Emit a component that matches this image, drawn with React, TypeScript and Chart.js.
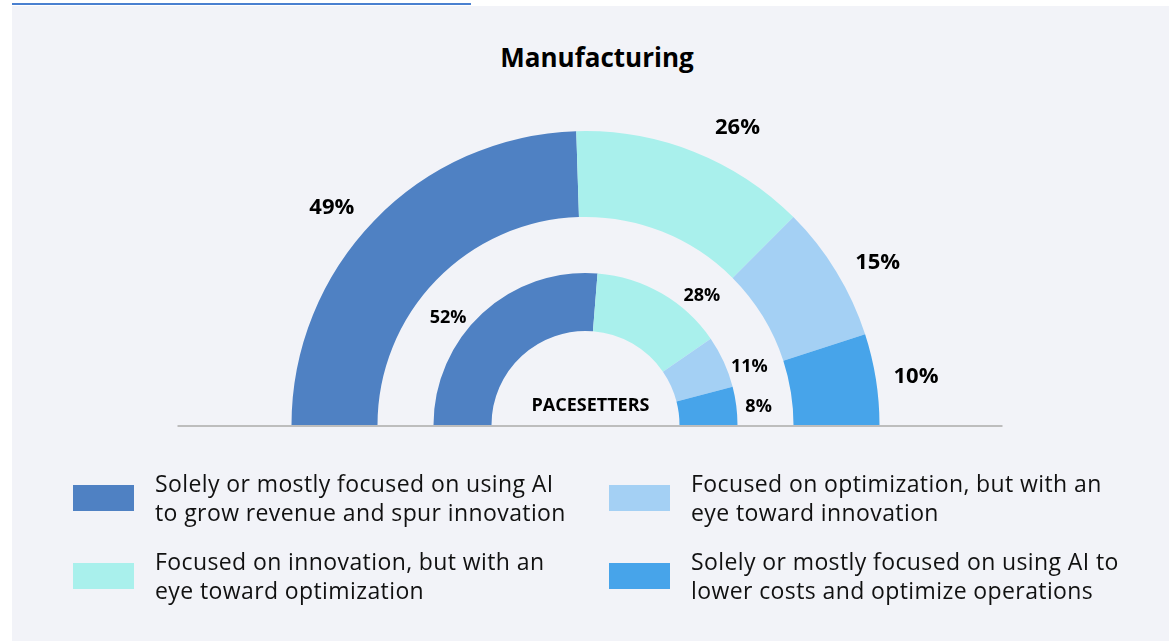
import React, { useEffect, useRef } from "react";
import { Chart, registerables } from "chart.js";

Chart.register(...registerables);

const title = "Manufacturing";
const centerLabel = "PACESETTERS";
const categories = [
  "Solely or mostly focused on using AI\nto grow revenue and spur innovation",
  "Focused on innovation, but with an\neye toward optimization",
  "Focused on optimization, but with an\neye toward innovation",
  "Solely or mostly focused on using AI to\nlower costs and optimize operations",
];
const allRespondents = [49, 26, 15, 10];
const pacesetters = [52, 28, 11, 8];
const colors = ["#4f81c3", "#a9f0ec", "#a4d0f4", "#47a4ea"];

const FONT = "'Open Sans', Lato, sans-serif";

export default function App() {
  const ref = useRef<HTMLCanvasElement | null>(null);

  useEffect(() => {
    if (!ref.current) return;

    const labelPlugin = {
      id: "ringLabels",
      afterDatasetsDraw(chart: any) {
        const ctx = chart.ctx;
        const meta0 = chart.getDatasetMeta(0);
        const first = meta0.data[0];
        if (!first) return;
        const cx = first.x;
        const cy = first.y;
        // baseline
        ctx.save();
        ctx.strokeStyle = "#bdbdbd";
        ctx.lineWidth = 2;
        ctx.beginPath();
        ctx.moveTo(cx - 408, cy + 1);
        ctx.lineTo(cx + 417, cy + 1);
        ctx.stroke();

        const drawRing = (idx: number, R: number, k: number, size: number) => {
          const meta = chart.getDatasetMeta(idx);
          const ds = chart.data.datasets[idx];
          ctx.font = `bold ${size}px ${FONT}`;
          ctx.fillStyle = "#000";
          ctx.textAlign = "center";
          ctx.textBaseline = "middle";
          meta.data.forEach((arc: any, i: number) => {
            const mid = (arc.startAngle + arc.endAngle) / 2;
            let th = -mid;
            if (th > Math.PI / 2) th = Math.PI - k * (Math.PI - th);
            else th = k * th;
            const x = cx + R * Math.cos(th);
            const y = cy - R * Math.sin(th);
            ctx.fillText(`${ds.data[i]}%`, x, y);
          });
        };
        drawRing(0, 334, 0.92, 22);
        drawRing(2, 174, 0.8, 18);

        ctx.font = `bold 18px ${FONT}`;
        ctx.textAlign = "center";
        ctx.textBaseline = "middle";
        ctx.fillText(centerLabel, cx + 5, cy - 19);
        ctx.restore();
      },
    };

    const chart = new Chart(ref.current, {
      type: "doughnut",
      data: {
        labels: categories,
        datasets: [
          {
            data: allRespondents,
            backgroundColor: colors,
            borderWidth: 0,
            weight: 86,
          } as any,
          {
            data: [1],
            backgroundColor: ["rgba(0,0,0,0)"],
            borderWidth: 0,
            weight: 56,
          } as any,
          {
            data: pacesetters,
            backgroundColor: colors,
            borderWidth: 0,
            weight: 58,
          } as any,
        ],
      },
      options: {
        animation: false,
        responsive: false,
        maintainAspectRatio: false,
        rotation: -90,
        circumference: 180,
        radius: 294,
        cutout: "31.97%",
        layout: { padding: { top: 0, left: 0, right: 0, bottom: 85 } },
        plugins: {
          legend: { display: false },
          tooltip: { enabled: false },
          title: { display: false },
        },
        events: [],
      } as any,
      plugins: [labelPlugin],
    });
    return () => chart.destroy();
  }, []);

  const legendPos = [
    { left: 73, top: 485 },
    { left: 73, top: 563 },
    { left: 609, top: 485 },
    { left: 609, top: 563 },
  ];

  return (
    <div
      style={{
        position: "fixed",
        left: 0,
        top: 0,
        width: 1171,
        height: 641,
        background: "#ffffff",
        overflow: "hidden",
        fontFamily: FONT,
      }}
    >
      <div
        style={{
          position: "absolute",
          left: 12,
          top: 3,
          width: 459,
          height: 2,
          background: "#4a80d0",
        }}
      />
      <div
        style={{
          position: "absolute",
          left: 12,
          top: 6,
          width: 1157,
          height: 635,
          background: "#f2f3f8",
        }}
      />
      <div
        style={{
          position: "absolute",
          left: 397,
          width: 400,
          top: 40,
          textAlign: "center",
          fontWeight: 700,
          fontSize: 26,
          color: "#000",
          lineHeight: "34px",
        }}
      >
        {title}
      </div>
      <canvas
        ref={ref}
        width={1171}
        height={641}
        style={{ position: "absolute", left: 0, top: 0, width: 1171, height: 641 }}
      />
      {categories.map((c, i) => (
        <React.Fragment key={i}>
          <div
            style={{
              position: "absolute",
              left: legendPos[i].left,
              top: legendPos[i].top,
              width: 61,
              height: 26,
              background: colors[i],
            }}
          />
          <div
            style={{
              position: "absolute",
              left: legendPos[i].left + 82,
              top: legendPos[i].top - 16,
              whiteSpace: "pre-line",
              fontSize: 23,
              letterSpacing: 0.4,
              lineHeight: "29px",
              color: "#111",
            }}
          >
            {c}
          </div>
        </React.Fragment>
      ))}
    </div>
  );
}
